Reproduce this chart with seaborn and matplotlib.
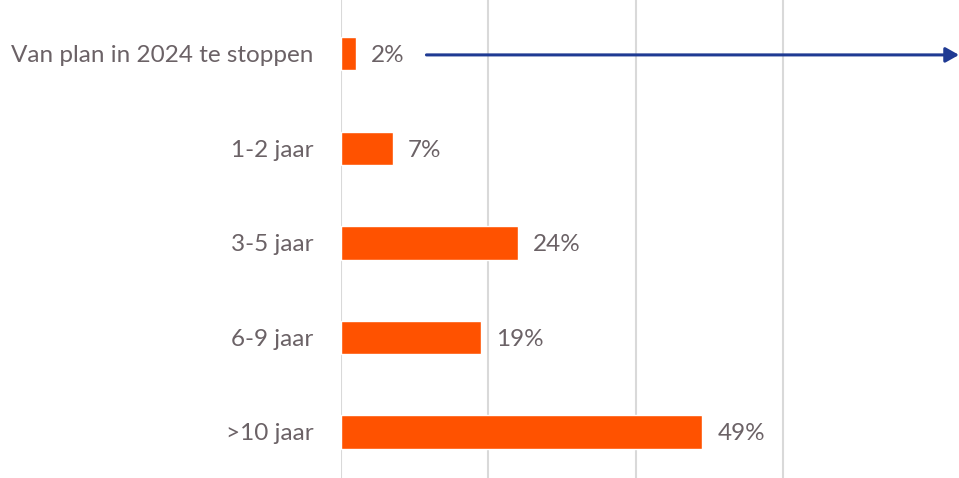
import pandas as pd
import matplotlib.pyplot as plt
import seaborn as sns

# Data
categories = ["Van plan in 2024 te stoppen", "1-2 jaar", "3-5 jaar", "6-9 jaar", ">10 jaar"]
values = [2, 7, 24, 19, 49]

df = pd.DataFrame({"categorie": categories, "percentage": values})

sns.set_style("white")
plt.rcParams['font.family'] = ['Lato', 'DejaVu Sans']

text_color = "#6b6266"
bar_color = "#FF5200"

fig = plt.figure(figsize=(9.59, 4.78), dpi=100)
ax = fig.add_axes([341 / 959, 0, 618 / 959, 1])

sns.barplot(data=df, x="percentage", y="categorie", color=bar_color,
            width=0.35, saturation=1, ax=ax, zorder=3)

ax.set_xlim(0, 83.9)
ax.set_ylim(4.487, -0.571)
ax.set_xticks([0, 20, 40, 60])
ax.grid(axis='x', color="#d9d9d9", linewidth=1.5, zorder=0)
ax.set_xticklabels([])
ax.set_xlabel("")
ax.set_ylabel("")
ax.tick_params(axis='y', length=0, pad=20, labelsize=17.5, labelcolor=text_color)
ax.tick_params(axis='x', length=0)
for s in ax.spines.values():
    s.set_visible(False)

# value labels
for i, v in enumerate(values):
    ax.text(v + 2.1, i, f"{v}%", va='center_baseline', ha='left', fontsize=17.5, color=text_color)

# arrow next to the first bar
ax.annotate("", xy=(83.9, 0.01), xytext=(values[0] + 9.6, 0.01),
            arrowprops=dict(arrowstyle="-|>,head_length=0.8,head_width=0.45",
                            color="#1F3A93", lw=2.2, shrinkA=0, shrinkB=0),
            annotation_clip=False)

fig.savefig("out.png", dpi=100)
